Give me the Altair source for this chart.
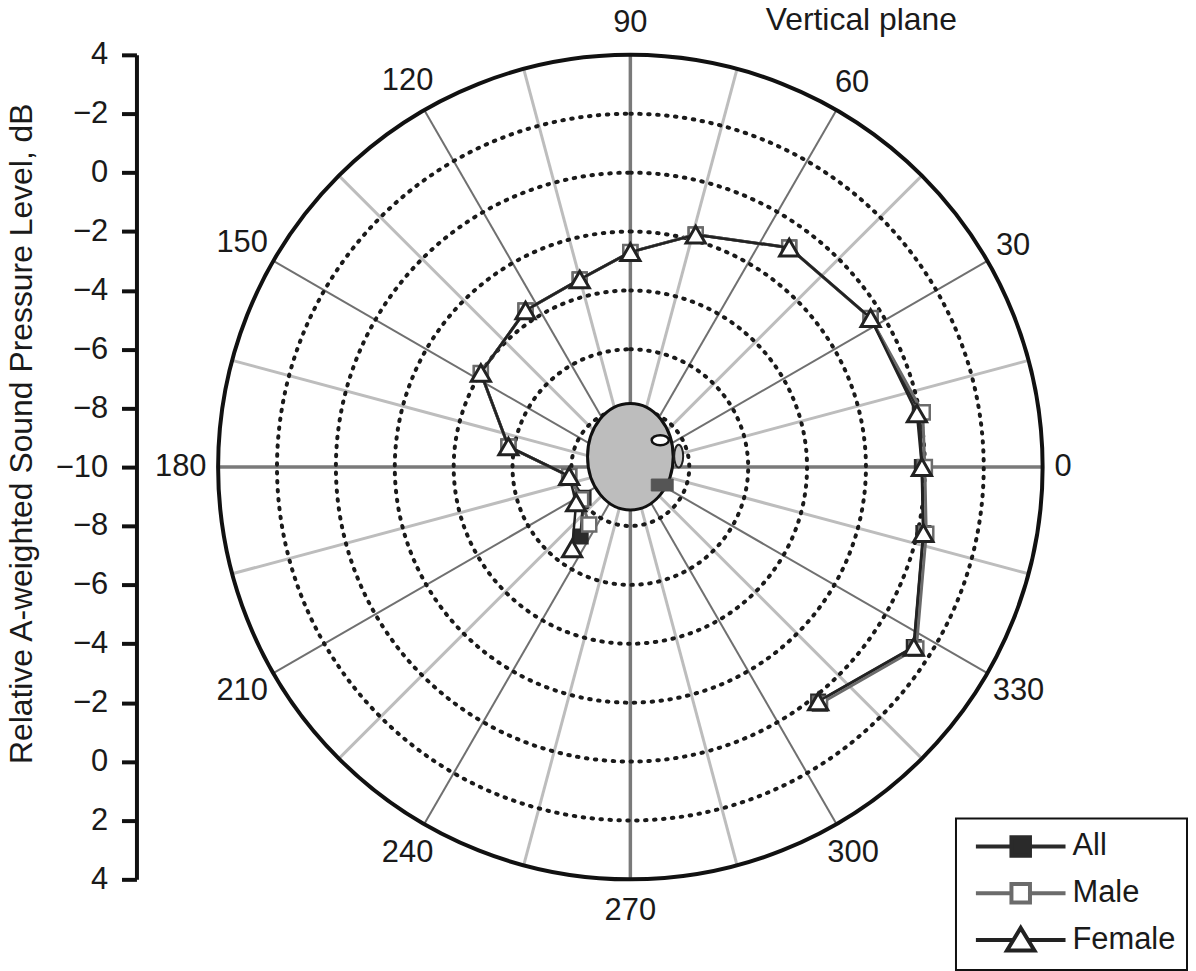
import math

import altair as alt
import pandas as pd

# measurement angles in degrees (0 = front, counter-clockwise), in drawing order
angles = [308.7, 327.6, 347.3, 0, 10.6, 31.8, 54.1, 74.3, 90, 105.1, 123.8, 147.8, 170.4, 188.4, 213.2, 234.4]
level_all = [0.2, 1.4, 0.2, -0.1, 0.0, -0.4, -0.8, -1.8, -2.7, -3.4, -3.6, -4.0, -5.8, -7.9, -8.1, -7.1]
level_male = [0.3, 1.5, 0.3, 0.0, 0.1, -0.4, -0.8, -1.8, -2.7, -3.4, -3.6, -4.0, -5.8, -7.9, -8.0, -7.6]
level_female = [0.2, 1.4, 0.2, -0.1, -0.1, -0.4, -0.8, -1.8, -2.7, -3.4, -3.6, -4.0, -5.8, -7.9, -7.8, -6.6]
series_names = ["All", "Male", "Female"]

# grid
spoke_axes = [0, 90, 180, 270]
spoke_major = [30, 60, 120, 150, 210, 240, 300, 330]
spoke_minor = [15, 45, 75, 105, 135, 165, 195, 225, 255, 285, 315, 345]
ring_levels = [-8, -6, -4, -2, 0, 2]
outer_level = [4]
angle_labels = [0, 30, 60, 90, 120, 150, 180, 210, 240, 270, 300, 330]
y_tick_labels = ["4", "−2", "0", "−2", "−4", "−6", "−8", "−10",
                 "−8", "−6", "−4", "−2", "0", "2", "4"]

POLE = -10   # dB at the centre
SPAN = 14    # dB from centre to outer ring
PLOT = 828   # square plot area, px
PX = PLOT / 2 / SPAN
FONT = "Liberation Sans"
INK = "#1a1a1a"

rows = []
for name, levels in zip(series_names, [level_all, level_male, level_female]):
    for i, (a, v) in enumerate(zip(angles, levels)):
        rows.append({"series": name, "idx": i, "angle": a, "db": v})
obs = pd.DataFrame(rows)

xs = alt.Scale(domain=[-SPAN, SPAN], nice=False, zero=False)
ys = alt.Scale(domain=[-SPAN, SPAN], nice=False, zero=False)
rs = alt.Scale(type="linear", domain=[0, SPAN], range=[0, PLOT / 2], nice=False, zero=True)

y_axis = alt.Axis(
    values=list(range(-SPAN, SPAN + 1, 2)),
    labelExpr="[" + ",".join(f"'{s}'" for s in y_tick_labels) + f"][({SPAN} - datum.value) / 2]",
    offset=82, grid=False,
    domainColor="#111", domainWidth=4, tickColor="#111", tickWidth=4, tickSize=15,
    labelFont=FONT, labelFontSize=31, labelColor=INK, labelPadding=14,
    title="Relative A-weighted Sound Pressure Level, dB",
    titleFont=FONT, titleFontSize=32, titleFontWeight="normal", titleColor=INK,
    titleAngle=-90, titleX=-105, titleY=380, titleAlign="center", titleBaseline="alphabetic",
)


def X(field):
    return alt.X(field, type="quantitative", scale=xs, axis=None)


def Y(field):
    return alt.Y(field, type="quantitative", scale=ys, axis=y_axis)


def polar(chart, radius_expr):
    return chart.transform_calculate(
        t="datum.angle * PI / 180"
    ).transform_calculate(
        px=f"({radius_expr}) * cos(datum.t)",
        py=f"({radius_expr}) * sin(datum.t)",
    )


# spokes
def spokes(values, color, width):
    base = alt.Chart(pd.DataFrame({"angle": values}))
    return polar(base, SPAN).transform_calculate(o="0").mark_rule(
        color=color, strokeWidth=width
    ).encode(x=X("o"), y=Y("o"), x2="px:Q", y2="py:Q")


minor = spokes(spoke_minor, "#bdbdbd", 3)
major = spokes(spoke_major, "#707070", 2)
axes_lines = spokes(spoke_axes, "#7a7a7a", 3.5)


# rings
def ring(levels, **style):
    return alt.Chart(pd.DataFrame({"level": levels})).transform_calculate(
        r=f"datum.level - ({POLE})"
    ).mark_arc(filled=False, **style).encode(
        theta=alt.value(0), theta2=alt.value(2 * math.pi),
        radius=alt.Radius("r:Q", scale=rs, stack=None),
    )


rings = ring(ring_levels, stroke=INK, strokeWidth=4, strokeDash=[1.5, 7.5], strokeCap="round")
outer = ring(outer_level, stroke="#111", strokeWidth=4)

# angle labels
lab = polar(
    alt.Chart(pd.DataFrame({"angle": angle_labels})).transform_calculate(
        label="toString(datum.angle)", a="datum.angle * PI / 180"
    ),
    f"(426 + length(datum.label) * 8.5 * pow(cos(datum.a), 2) + 20 * pow(sin(datum.a), 2)) / {PX}",
).mark_text(font=FONT, fontSize=31, color=INK, align="center", baseline="middle").encode(
    x=X("px"), y=Y("py"), text="label:N",
)

# head drawn at the pole (custom symbol paths, unit = 43 px)
HEAD_SIZE = 86 ** 2
head_parts = [
    ("M-1,-0.244A1,1.244 0 1,1 1,-0.244A1,1.244 0 1,1 -1,-0.244Z", "#bdbdbd", "#111", 3),
    ("M0.498,-0.628A0.2,0.116 0 1,1 0.898,-0.628A0.2,0.116 0 1,1 0.498,-0.628Z", "#ffffff", "#111", 2.5),
    ("M1.023,-0.256A0.105,0.267 0 1,1 1.233,-0.256A0.105,0.267 0 1,1 1.023,-0.256Z", "#c8c8c8", "#222", 2),
    ("M0.488,0.279H1V0.558H0.488Z", "#555555", "#555555", 1),
]
pole = pd.DataFrame({"r": [0]})
head = [
    alt.Chart(pole).mark_point(
        shape=path, size=HEAD_SIZE, filled=True, fill=fill, stroke=stroke,
        strokeWidth=sw, opacity=1,
    ).encode(x=X("r"), y=Y("r"))
    for path, fill, stroke, sw in head_parts
]

# series
styles = {
    "All": dict(line="#2a2a2a", lw=3, shape="square", size=200, fill="#2a2a2a", stroke="#2a2a2a", sw=2),
    "Male": dict(line="#6b6b6b", lw=3, shape="square", size=200, fill="#ffffff", stroke="#6b6b6b", sw=2.5),
    "Female": dict(line="#222222", lw=2.5, shape="triangle-up", size=370, fill="#ffffff", stroke="#222222", sw=3),
}
series_layers = []
for name in series_names:
    s = styles[name]
    base = polar(
        alt.Chart(obs).transform_filter(alt.datum.series == name),
        f"datum.db - ({POLE})",
    ).encode(x=X("px"), y=Y("py"), order="idx:Q")
    series_layers.append(base.mark_line(color=s["line"], strokeWidth=s["lw"]))
    series_layers.append(base.mark_point(
        shape=s["shape"], size=s["size"], filled=True, fill=s["fill"],
        stroke=s["stroke"], strokeWidth=s["sw"], opacity=1,
    ))

# legend-only layer: symbol = line with marker (unit = 15 px)
sym_square = "M-3,0H-0.62M0.62,0H3M-0.62,-0.62H0.62V0.62H-0.62Z"
sym_triangle = "M-3,0H-0.5M0.5,0H3M-0.92,0.7L0,-0.82L0.92,0.7Z"
legend = alt.Legend(
    title=None, orient="none", legendX=741, legendY=767, padding=11,
    strokeColor="#111", fillColor="#ffffff",
    labelFont=FONT, labelFontSize=31, labelColor=INK,
    symbolSize=900, symbolStrokeWidth=4, symbolOffset=37, labelOffset=35,
    rowPadding=7, gridAlign="all",
)
legend_layer = polar(
    alt.Chart(obs).transform_filter("false"), "datum.db"
).mark_point(filled=True, size=900, opacity=1).encode(
    x=X("px"), y=Y("py"),
    shape=alt.Shape("series:N", scale=alt.Scale(domain=series_names, range=[sym_square, sym_square, sym_triangle]), legend=legend),
    fill=alt.Fill("series:N", scale=alt.Scale(domain=series_names, range=["#2a2a2a", "#ffffff", "#ffffff"]), legend=legend),
    stroke=alt.Stroke("series:N", scale=alt.Scale(domain=series_names, range=["#2a2a2a", "#6b6b6b", "#222222"]), legend=legend),
)

chart = alt.layer(
    minor, major, axes_lines, rings, outer, *head, *series_layers, lab, legend_layer
).properties(
    width=PLOT, height=PLOT,
    padding={"left": 211, "top": 45, "right": 146, "bottom": 92},
    autosize=alt.AutoSizeParams(type="none"),
    title=alt.TitleParams(
        "Vertical plane", anchor="end", frame="group", dx=-86, offset=-62, baseline="bottom",
        font=FONT, fontSize=32, fontWeight="normal", color=INK,
    ),
).configure_view(stroke=None).configure_legend(strokeWidth=2)

chart.save("out.html", embed_options={"renderer": "svg", "actions": False})
